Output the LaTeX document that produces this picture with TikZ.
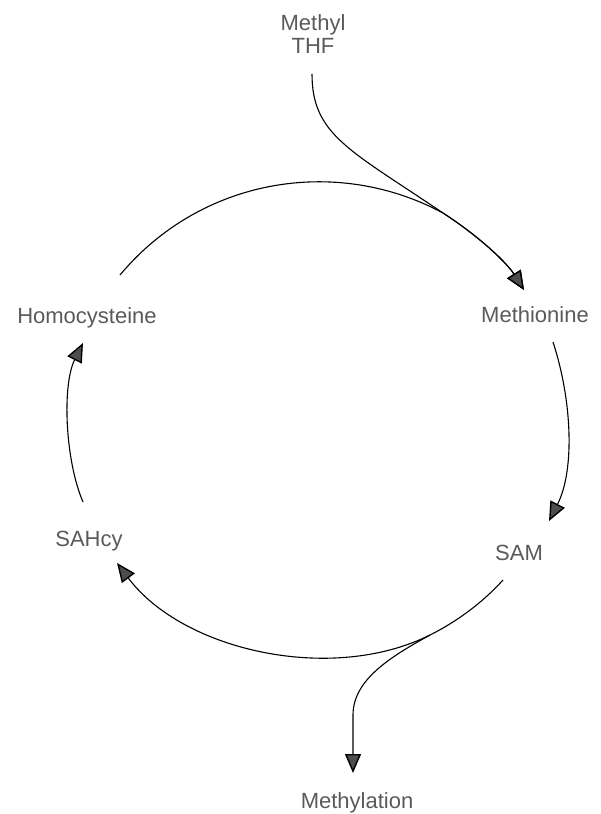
\documentclass[tikz,border=0pt]{standalone}
\usepackage{fontspec}
\setmainfont{Liberation Sans}
\usetikzlibrary{arrows.meta,calc}
\definecolor{ink}{HTML}{5A5A5A}
\definecolor{headgray}{HTML}{4D4D4D}
\tikzset{rxn/.style={-{Triangle[length=19pt,width=16pt,fill=headgray,line width=1.4pt]},line width=1.1pt,black},
lab/.style={font=\fontsize{22}{23}\selectfont,text=ink,align=center,inner sep=0pt}}
\begin{document}
\begin{tikzpicture}[x=1pt,y=-1pt]
\useasboundingbox (0,0) rectangle (601,814);
\node[lab,anchor=north] (thf) at (313,14) {Methyl\\THF};
\node[lab,anchor=base] (met) at (535,322) {Methionine};
\node[lab,anchor=base] (homo) at (87,323) {Homocysteine};
\node[lab,anchor=base] (sam) at (519,560) {SAM};
\node[lab,anchor=base] (sahcy) at (89,546) {SAHcy};
\node[lab,anchor=base] (methyl) at (357,808) {Methylation};
\coordinate (merge) at (443,213);
\coordinate (split) at (430,635);
\draw[rxn] ($(thf.north)+(-1,60)$) .. controls (312,135) and (350,150) .. (merge)
  .. controls (480,237) and (507,263) .. ($(met.base)+(-11,-32)$);
\draw[rxn] ($(homo.base)+(33,-48)$) .. controls (200,179) and (335,155) .. (merge)
  .. controls (480,237) and (507,263) .. ($(met.base)+(-11,-32)$);
\draw[rxn] ($(met.base)+(18,20)$) .. controls (572,400) and (575,470) .. ($(sam.base)+(30,-39)$);
\draw[rxn] ($(sam.base)+(-16,20)$) .. controls (485,600) and (460,620) .. (split)
  .. controls (332,684) and (183,651) .. ($(sahcy.base)+(28,17)$);
\draw[rxn] (split) .. controls (390,657) and (353,680) .. (353,715) -- ($(methyl.base)+(-4,-35)$);
\draw[rxn] ($(sahcy.base)+(-6,-44)$) .. controls (65,460) and (62,385) .. ($(homo.base)+(-4,20)$);
\end{tikzpicture}
\end{document}
